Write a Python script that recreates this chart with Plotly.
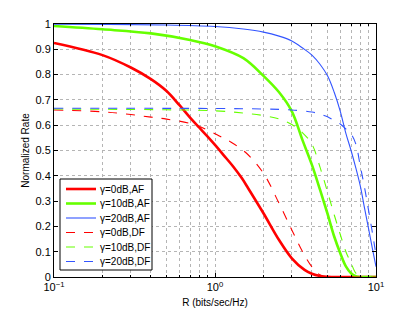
import plotly.graph_objects as go

# rate R (bits/sec/Hz) and normalized rate per scheme
r_af0 = [0.1, 0.2, 0.3, 0.4, 0.5, 0.6, 0.7, 0.8, 0.9, 1.0, 1.13, 1.3, 1.47, 1.61, 2, 2.5, 3, 3.6, 4, 4.5, 5, 6, 8, 10]
af0 = [0.925, 0.877, 0.828, 0.782, 0.735, 0.68, 0.63, 0.59, 0.555, 0.522, 0.482, 0.436, 0.39, 0.35, 0.252, 0.146, 0.074, 0.028, 0.013, 0.004, 0.001, 0, 0, 0]

r_df0 = [0.1, 0.2, 0.3, 0.4, 0.5, 0.7, 0.9, 1.08, 1.24, 1.57, 2, 2.5, 3, 3.54, 4, 4.5, 5, 6, 8, 10]
df0 = [0.66, 0.653, 0.642, 0.632, 0.624, 0.607, 0.581, 0.555, 0.535, 0.489, 0.41, 0.291, 0.186, 0.094, 0.04, 0.008, 0, 0, 0, 0]

r_af10 = [0.1, 0.2, 0.4, 0.7, 1.0, 1.5, 2, 2.5, 3, 3.5, 4, 4.5, 5, 5.5, 6, 6.5, 7, 7.5, 8, 10]
af10 = [0.992, 0.979, 0.963, 0.937, 0.912, 0.865, 0.795, 0.73, 0.655, 0.54, 0.443, 0.343, 0.25, 0.16, 0.094, 0.042, 0.015, 0.003, 0, 0]

r_df10 = [0.1, 0.5, 1.0, 1.5, 2, 2.5, 3, 3.5, 4, 4.5, 5, 5.5, 6, 6.5, 7, 7.5, 8, 10]
df10 = [0.664, 0.661, 0.657, 0.648, 0.638, 0.625, 0.603, 0.57, 0.525, 0.432, 0.336, 0.246, 0.168, 0.1, 0.055, 0.015, 0.002, 0]

r_af20 = [0.1, 0.5, 1.0, 1.5, 2, 2.5, 3, 3.5, 4, 4.5, 5, 5.5, 6, 6.5, 7, 7.5, 8, 8.5, 9, 9.5, 10]
af20 = [0.999, 0.996, 0.99, 0.98, 0.968, 0.952, 0.933, 0.905, 0.877, 0.84, 0.795, 0.73, 0.655, 0.568, 0.50, 0.43, 0.358, 0.27, 0.19, 0.112, 0.041]

r_df20 = [0.1, 1.0, 2, 3, 4, 4.5, 5, 5.5, 6, 6.5, 7, 7.5, 8, 8.5, 9, 9.5, 10]
df20 = [0.667, 0.666, 0.664, 0.66, 0.652, 0.644, 0.633, 0.618, 0.605, 0.585, 0.565, 0.525, 0.436, 0.352, 0.262, 0.175, 0.087]

RED, GREEN, BLUE = "#ff0000", "#66ff00", "#3355ff"

series = [
    ("γ=0dB,AF", r_af0, af0, RED, 2.6, "solid"),
    ("γ=10dB,AF", r_af10, af10, GREEN, 2.6, "solid"),
    ("γ=20dB,AF", r_af20, af20, BLUE, 1.1, "solid"),
    ("γ=0dB,DF", r_df0, df0, RED, 1.1, "dash"),
    ("γ=10dB,DF", r_df10, df10, GREEN, 1.1, "dash"),
    ("γ=20dB,DF", r_df20, df20, BLUE, 1.1, "dash"),
]

fig = go.Figure()
for name, x, y, col, w, dash in series:
    fig.add_trace(go.Scatter(
        x=x, y=y, name=name, mode="lines", showlegend=False,
        line=dict(color=col, width=w, dash=dash, shape="spline", smoothing=1.0),
    ))

# plot area in screen pixels (page body adds an 8px offset)
OFF = 8
L, T, PW, PH = 54, 24, 322, 253
def px(xp):
    return (xp - L) / PW
def py(yp):
    return (T + PH - yp) / PH

# hand-drawn legend box to get MATLAB-like compact spacing
fig.add_shape(type="rect", xref="paper", yref="paper",
              x0=px(60), x1=px(152), y0=py(270), y1=py(179),
              line=dict(color="black", width=1), fillcolor="white", layer="above")
for i, (name, x, y, col, w, dash) in enumerate(series):
    yy = 189 + i * 14.5
    fig.add_shape(type="line", xref="paper", yref="paper",
                  x0=px(66), x1=px(96), y0=py(yy), y1=py(yy),
                  line=dict(color=col, width=w, dash=dash), layer="above")
    fig.add_annotation(xref="paper", yref="paper", x=px(98), y=py(yy),
                       text=name, showarrow=False, xanchor="left", yanchor="middle",
                       font=dict(size=10, color="black"))

grid = dict(showgrid=True, gridcolor="#b5b5b5", griddash="dot", gridwidth=1)
axis_common = dict(
    showline=True, linecolor="black", linewidth=1, mirror="ticks",
    ticks="inside", ticklen=4, tickcolor="black", automargin=False,
    zeroline=False, tickfont=dict(size=11, color="black"), **grid,
)

fig.update_xaxes(
    type="log", range=[-1, 1],
    tickvals=[0.1, 1, 10],
    ticktext=["10<sup>−1</sup>", "10<sup>0</sup>", "10<sup>1</sup>"],
    minor=dict(tickmode="array",
               tickvals=[0.2, 0.3, 0.4, 0.5, 0.6, 0.7, 0.8, 0.9, 2, 3, 4, 5, 6, 7, 8, 9],
               ticks="inside", ticklen=2, tickcolor="black", **grid),
    title=dict(text="R (bits/sec/Hz)", font=dict(size=10, color="black"), standoff=6),
    **axis_common,
)
fig.update_yaxes(
    range=[0, 1],
    tickvals=[0, 0.1, 0.2, 0.3, 0.4, 0.5, 0.6, 0.7, 0.8, 0.9, 1],
    ticktext=["0", "0.1", "0.2", "0.3", "0.4", "0.5", "0.6", "0.7", "0.8", "0.9", "1"],
    title=dict(text="Normalized Rate", font=dict(size=10, color="black"), standoff=4),
    **axis_common,
)

W, H = 415 - OFF, 312 - OFF
fig.update_layout(
    width=W, height=H,
    margin=dict(l=L - OFF, r=W - (L - OFF + PW), t=T - OFF, b=H - (T - OFF + PH)),
    paper_bgcolor="white", plot_bgcolor="white",
    font=dict(family="Liberation Sans, Arial, sans-serif", color="black"),
    showlegend=False,
)

fig.write_html("out.html")
